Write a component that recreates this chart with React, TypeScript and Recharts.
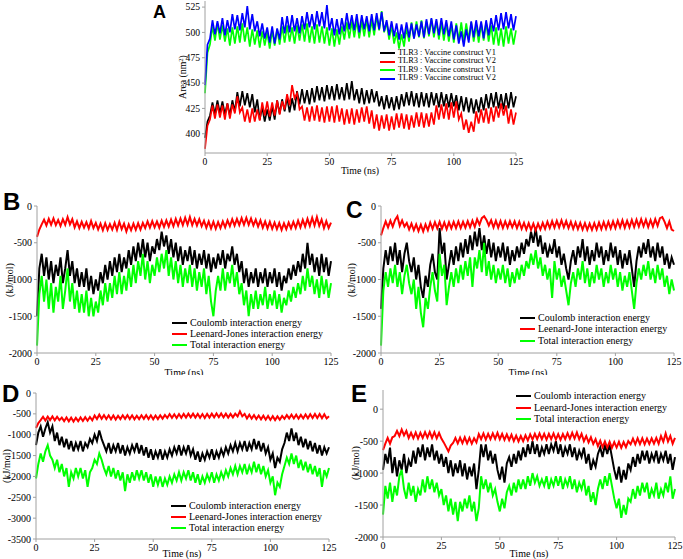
import { LineChart, Line, XAxis, YAxis, Legend } from "recharts";

// one sample per ns, 0..125 ns
const STEP_NS = 1;
const TIME_TICKS = [0, 25, 50, 75, 100, 125];

// Panel A: buried surface area (nm^2)
const A_TLR3_V1 = [
  396, 412, 418, 431, 419, 433, 420, 432, 419, 430, 418, 433, 422, 441, 427, 442, 428, 440, 426, 439, 421, 434, 414, 426, 412,
  424, 413, 427, 414, 433, 420, 434, 422, 436, 421, 435, 423, 442, 429, 444, 430, 443, 429, 445, 431, 447, 433, 446, 432, 448,
  434, 447, 433, 449, 434, 446, 433, 450, 434, 452, 433, 444, 430, 445, 429, 443, 430, 444, 431, 442, 427, 437, 424, 438, 425,
  436, 423, 437, 424, 439, 427, 441, 428, 442, 427, 440, 426, 441, 427, 440, 426, 441, 428, 440, 426, 441, 427, 439, 426, 440,
  427, 438, 423, 437, 422, 436, 421, 435, 420, 434, 421, 436, 423, 439, 425, 440, 426, 441, 425, 439, 424, 440, 425, 441, 426,
  437,
];
const A_TLR3_V2 = [
  385, 408, 414, 428, 415, 429, 416, 428, 414, 430, 415, 429, 420, 437, 421, 426, 412, 424, 411, 425, 412, 424, 413, 431, 418,
  432, 417, 431, 418, 433, 419, 432, 424, 439, 428, 448, 435, 440, 424, 427, 413, 426, 412, 427, 413, 428, 412, 426, 411, 427,
  412, 427, 411, 428, 412, 425, 409, 424, 410, 425, 409, 424, 411, 426, 412, 427, 410, 423, 405, 419, 403, 418, 405, 419, 403,
  417, 404, 420, 406, 420, 405, 419, 404, 418, 406, 421, 407, 421, 406, 420, 407, 421, 409, 428, 414, 429, 415, 430, 414, 431,
  416, 432, 414, 420, 404, 414, 401, 412, 402, 422, 410, 424, 411, 425, 410, 426, 412, 427, 416, 430, 418, 428, 410, 424, 409,
  421,
];
const A_TLR9_V1 = [
  440, 480, 488, 506, 492, 509, 493, 507, 491, 504, 487, 505, 489, 506, 490, 509, 491, 505, 486, 503, 488, 502, 485, 501, 487,
  500, 484, 502, 487, 503, 488, 506, 490, 507, 491, 505, 489, 507, 492, 508, 491, 509, 490, 506, 489, 508, 490, 506, 489, 505,
  487, 504, 486, 503, 488, 506, 493, 510, 494, 511, 495, 512, 494, 511, 496, 513, 495, 512, 497, 516, 502, 521, 500, 510, 493,
  507, 489, 500, 484, 498, 486, 505, 491, 510, 494, 511, 495, 512, 494, 511, 496, 513, 495, 511, 493, 510, 492, 509, 491, 508,
  490, 509, 492, 510, 491, 509, 493, 510, 491, 508, 490, 509, 492, 510, 491, 507, 488, 505, 487, 504, 486, 506, 489, 504, 488,
  502,
];
const A_TLR9_V2 = [
  448, 488, 494, 512, 498, 511, 499, 514, 497, 512, 500, 518, 503, 517, 502, 519, 505, 526, 503, 518, 501, 511, 496, 509, 494,
  505, 490, 506, 489, 504, 493, 515, 499, 516, 500, 517, 501, 514, 499, 516, 503, 520, 505, 518, 503, 521, 506, 520, 504, 527,
  502, 514, 497, 513, 498, 514, 501, 519, 503, 517, 502, 518, 500, 517, 503, 516, 501, 518, 502, 519, 503, 520, 501, 512, 497,
  511, 496, 509, 493, 508, 494, 510, 495, 509, 494, 508, 496, 511, 495, 513, 498, 514, 499, 513, 497, 514, 498, 512, 496, 511,
  493, 507, 489, 501, 486, 503, 490, 511, 495, 512, 496, 511, 494, 512, 497, 514, 501, 517, 502, 519, 503, 520, 504, 518, 502,
  516,
];

// Panel B: interaction energies (kJ/mol)
const B_COULOMB = [
  -1500, -850, -650, -950, -700, -1000, -750, -1050, -800, -950, -700, -1050, -850, -600, -950, -750, -1050, -850, -1100, -900,
  -1100, -850, -1150, -950, -1200, -1000, -1150, -900, -1050, -800, -1000, -750, -950, -700, -900, -650, -900, -700, -850, -600,
  -800, -550, -750, -500, -700, -450, -700, -500, -750, -550, -650, -450, -600, -350, -550, -400, -650, -450, -700, -500,
  -750, -550, -800, -600, -750, -550, -800, -600, -850, -650, -800, -600, -850, -650, -900, -700, -850, -650, -800, -600,
  -850, -650, -750, -550, -800, -650, -900, -750, -1050, -850, -1100, -900, -1050, -850, -1100, -900, -1050, -850, -1100, -900,
  -1050, -850, -1100, -900, -1150, -950, -1050, -850, -1000, -800, -950, -750, -900, -650, -850, -500, -800, -650, -900, -700,
  -950, -650, -900, -700, -950, -750,
];
const B_LJ = [
  -420, -320, -250, -185, -265, -175, -255, -170, -260, -190, -270, -180, -255, -150, -250, -180, -290, -210, -300, -215,
  -295, -220, -305, -205, -300, -230, -320, -240, -330, -235, -325, -245, -320, -230, -325, -215, -315, -240, -345, -250,
  -330, -240, -325, -235, -320, -230, -300, -210, -295, -205, -290, -210, -295, -200, -285, -195, -280, -185, -275, -175,
  -265, -170, -260, -160, -255, -150, -260, -175, -265, -180, -275, -200, -295, -210, -305, -215, -310, -220, -300, -210,
  -290, -195, -275, -180, -265, -175, -260, -165, -255, -160, -255, -170, -265, -185, -280, -195, -295, -210, -305, -215,
  -310, -225, -315, -230, -325, -235, -315, -225, -305, -215, -300, -200, -290, -190, -280, -175, -270, -160, -265, -150,
  -270, -185, -300, -205, -300, -225,
];
const B_TOTAL = [
  -1900, -1200, -950, -1300, -1000, -1400, -1050, -1450, -1100, -1300, -950, -1400, -1150, -850, -1300, -1050, -1400, -1150, -1450, -1200,
  -1450, -1150, -1500, -1250, -1500, -1300, -1450, -1150, -1350, -1050, -1300, -1050, -1250, -950, -1200, -900, -1200, -950, -1150, -850,
  -1100, -800, -1050, -750, -950, -650, -1000, -750, -1050, -800, -950, -700, -900, -650, -850, -600, -950, -700, -1000, -750,
  -1050, -800, -1100, -850, -1050, -800, -1100, -850, -1150, -900, -1100, -850, -1200, -950, -1300, -1500, -1150, -950, -1150, -850,
  -1150, -900, -1050, -800, -1100, -900, -1200, -1050, -1350, -1150, -1500, -1200, -1400, -1150, -1400, -1200, -1350, -1100, -1400, -1200,
  -1350, -1150, -1400, -1200, -1450, -1250, -1350, -1150, -1300, -1100, -1250, -1050, -1200, -950, -1150, -850, -1100, -950, -1200, -1000,
  -1250, -950, -1200, -1000, -1250, -1050,
];

// Panel C
const C_COULOMB = [
  -1400, -850, -600, -800, -550, -750, -500, -800, -600, -900, -650, -500, -750, -900, -700, -1000, -800, -1100, -1250, -950,
  -1100, -800, -650, -900, -1000, -300, -650, -500, -1000, -800, -600, -800, -550, -750, -500, -700, -450, -650, -400, -600,
  -350, -550, -300, -600, -400, -650, -450, -700, -500, -750, -550, -700, -500, -750, -550, -800, -600, -750, -550, -700,
  -500, -650, -450, -550, -350, -500, -300, -550, -400, -650, -500, -700, -550, -650, -450, -700, -550, -800, -650, -850,
  -1000, -750, -600, -800, -550, -700, -450, -750, -550, -800, -600, -750, -500, -700, -550, -800, -600, -750, -500, -700,
  -550, -800, -600, -850, -650, -800, -600, -850, -1100, -750, -550, -700, -500, -650, -450, -700, -550, -750, -500, -700,
  -550, -800, -650, -850, -700, -800,
];
const C_LJ = [
  -400, -300, -210, -290, -200, -280, -190, -140, -270, -195, -280, -230, -320, -240, -330, -250, -340, -255, -345, -250,
  -330, -225, -310, -220, -305, -215, -310, -225, -315, -220, -305, -215, -300, -210, -300, -215, -295, -205, -290, -200,
  -285, -180, -255, -165, -140, -190, -265, -195, -290, -200, -295, -205, -300, -210, -295, -205, -290, -210, -300, -215,
  -310, -230, -320, -235, -325, -240, -330, -240, -320, -230, -310, -215, -300, -205, -295, -200, -290, -195, -290, -205,
  -300, -215, -310, -225, -315, -230, -320, -235, -325, -240, -325, -235, -320, -225, -315, -220, -310, -215, -305, -210,
  -300, -200, -290, -195, -295, -200, -290, -190, -285, -185, -280, -180, -275, -185, -285, -190, -280, -180, -270, -165,
  -150, -215, -300, -210, -320, -340,
];
const C_TOTAL = [
  -1900, -1150, -900, -1100, -850, -1050, -800, -1100, -900, -1200, -950, -800, -1050, -1200, -1000, -1400, -1100, -1450, -1650, -1250,
  -1400, -1100, -900, -1150, -1300, -650, -950, -800, -1350, -1100, -900, -1100, -850, -1050, -800, -1000, -750, -950, -700, -1100,
  -700, -850, -600, -900, -500, -950, -750, -1000, -800, -1050, -850, -1000, -800, -1050, -850, -1100, -900, -1050, -850, -1000,
  -800, -950, -750, -850, -650, -800, -600, -850, -700, -950, -800, -1000, -850, -1250, -750, -1000, -850, -1100, -950, -1150,
  -1350, -1050, -900, -1100, -850, -1000, -750, -1050, -850, -1100, -900, -1050, -800, -1000, -850, -1100, -900, -1050, -800, -1000,
  -850, -1100, -900, -1150, -950, -1100, -900, -1150, -1400, -1050, -850, -1000, -800, -950, -750, -1000, -850, -1050, -800, -1000,
  -850, -1100, -950, -1200, -1000, -1150,
];

// Panel D
const D_COULOMB = [
  -1250, -950, -800, -1050, -850, -700, -950, -800, -1150, -950, -1250, -1050, -1300, -1100, -1350, -1150, -1400, -1200, -1350, -1150,
  -1400, -1200, -1300, -1100, -1200, -1000, -1150, -900, -1100, -1250, -1400, -1200, -1450, -1250, -1400, -1200, -1450, -1250, -1500, -1300,
  -1450, -1250, -1400, -1200, -1450, -1250, -1500, -1300, -1550, -1350, -1600, -1400, -1550, -1350, -1600, -1400, -1550, -1350, -1500, -1300,
  -1450, -1250, -1500, -1300, -1450, -1250, -1500, -1350, -1600, -1400, -1650, -1450, -1600, -1400, -1550, -1350, -1600, -1400, -1550, -1350,
  -1500, -1300, -1450, -1250, -1400, -1200, -1400, -1200, -1350, -1150, -1400, -1200, -1350, -1100, -1350, -1150, -1400, -1200, -1450, -1300,
  -1600, -1450, -1800, -1550, -1650, -1350, -1200, -950, -1150, -850, -1150, -950, -1250, -1050, -1300, -1100, -1350, -1150, -1400, -1200,
  -1450, -1250, -1500, -1300, -1450, -1300,
];
const D_LJ = [
  -840, -720, -650, -570, -660, -565, -650, -560, -655, -570, -650, -590, -675, -585, -680, -590, -685, -595, -675, -585,
  -670, -580, -665, -575, -655, -540, -625, -520, -620, -530, -625, -535, -630, -540, -635, -545, -625, -535, -620, -530,
  -625, -535, -630, -545, -625, -535, -620, -530, -625, -535, -630, -540, -625, -535, -615, -525, -600, -505, -595, -510,
  -600, -505, -595, -500, -590, -495, -585, -495, -590, -500, -595, -505, -600, -500, -590, -495, -585, -490, -580, -490,
  -585, -495, -590, -500, -585, -495, -560, -440, -560, -500, -610, -520, -615, -530, -625, -540, -630, -545, -640, -550,
  -645, -555, -650, -560, -640, -550, -620, -530, -610, -520, -610, -520, -615, -525, -610, -515, -605, -510, -600, -505,
  -600, -505, -605, -510, -610, -560,
];
const D_TOTAL = [
  -2050, -1700, -1450, -1650, -1400, -1250, -1500, -1600, -1800, -1600, -1900, -1700, -2000, -1800, -2250, -1900, -2050, -1800, -2000, -1800,
  -2050, -1850, -2250, -1900, -1800, -1600, -1700, -1450, -1600, -1800, -1950, -1750, -2000, -1800, -2050, -1850, -2100, -1900, -2350, -1950,
  -2150, -1900, -2100, -1850, -2050, -1850, -2100, -1900, -2150, -1950, -2250, -2000, -2200, -2000, -2250, -2050, -2200, -2000, -2150, -1950,
  -2100, -1900, -2100, -1900, -2050, -1850, -2100, -1900, -2150, -1950, -2200, -2000, -2150, -1950, -2100, -1900, -2150, -1950, -2100, -1900,
  -2050, -1850, -2000, -1800, -1950, -1750, -1950, -1750, -1900, -1700, -1950, -1750, -1900, -1650, -1900, -1700, -1950, -1750, -2000, -1850,
  -2150, -2000, -2450, -2150, -2250, -1950, -1750, -1550, -1700, -1450, -1700, -1500, -1800, -1600, -1850, -1650, -1900, -1700, -1950, -1750,
  -2000, -1800, -2250, -1850, -2000, -1800,
];

// Panel E
const E_COULOMB = [
  -950, -700, -850, -600, -1000, -750, -1050, -800, -950, -700, -1000, -800, -900, -650, -850, -600, -750, -550, -800, -600,
  -750, -550, -800, -650, -850, -700, -900, -750, -1000, -800, -1050, -850, -1000, -800, -1050, -850, -1100, -900, -1050, -850,
  -1250, -950, -550, -750, -550, -800, -650, -850, -700, -950, -1100, -900, -1150, -850, -750, -900, -700, -850, -650, -800,
  -600, -750, -550, -700, -500, -700, -550, -750, -600, -700, -550, -700, -550, -650, -500, -700, -550, -750, -600, -700,
  -550, -750, -600, -800, -650, -750, -600, -850, -700, -950, -800, -900, -700, -600, -750, -550, -700, -550, -750, -950,
  -1100, -900, -1150, -950, -1100, -850, -950, -750, -900, -700, -850, -650, -800, -650, -850, -700, -800, -650, -850, -700,
  -800, -650, -850, -700, -950, -750,
];
const E_LJ = [
  -640, -540, -450, -540, -440, -420, -340, -420, -320, -410, -340, -450, -370, -455, -365, -460, -370, -450, -360, -445,
  -355, -450, -360, -455, -370, -460, -520, -590, -660, -570, -530, -450, -535, -445, -530, -440, -535, -450, -540, -455,
  -520, -390, -470, -380, -475, -385, -470, -380, -465, -370, -470, -385, -480, -395, -485, -400, -500, -415, -505, -420,
  -500, -410, -490, -395, -475, -385, -470, -380, -470, -385, -475, -385, -470, -380, -475, -390, -480, -390, -470, -375,
  -465, -370, -460, -365, -470, -385, -500, -420, -520, -440, -545, -470, -580, -495, -595, -505, -600, -510, -605, -515,
  -600, -510, -605, -515, -595, -500, -550, -460, -550, -455, -545, -455, -550, -460, -545, -455, -540, -450, -540, -420,
  -510, -380, -505, -420, -540, -450,
];
const E_TOTAL = [
  -1650, -1200, -1400, -1150, -1450, -1200, -1350, -1050, -950, -1250, -1400, -1150, -1350, -1200, -1450, -1250, -1350, -1100, -1300, -1050,
  -1250, -1100, -1300, -1150, -1350, -1250, -1500, -1350, -1600, -1400, -1650, -1450, -1750, -1450, -1600, -1400, -1550, -1350, -1600, -1450,
  -1750, -1550, -1050, -1250, -1100, -1300, -1150, -1350, -1250, -1450, -1600, -1400, -1550, -1300, -1200, -1350, -1150, -1300, -1100, -1250,
  -1100, -1250, -1050, -1200, -1000, -1150, -1050, -1200, -1100, -1200, -1050, -1250, -1100, -1200, -1050, -1200, -1050, -1250, -1100, -1200,
  -1050, -1250, -1100, -1300, -1150, -1250, -1100, -1350, -1200, -1450, -1300, -1500, -1250, -1100, -1250, -1050, -1200, -1000, -1200, -1400,
  -1550, -1400, -1700, -1500, -1650, -1400, -1450, -1250, -1400, -1200, -1350, -1150, -1300, -1150, -1400, -1250, -1350, -1150, -1400, -1250,
  -1350, -1150, -1300, -1050, -1400, -1250,
];

const BLACK = "#000000";
const RED = "#ff0000";
const GREEN = "#00ff00";
const BLUE = "#0000ff";
const FRAME = "#a0a0a0";
const SERIF = '"Liberation Serif", "DejaVu Serif", serif';
const SANS = '"Liberation Sans", Arial, sans-serif';

type Series = { name: string; color: string; values: number[] };

type PanelProps = {
  left: number;
  top: number;
  width: number;
  height: number;
  plot: { x0: number; x1: number; y0: number; y1: number };
  domain: [number, number];
  yTicks: number[];
  series: Series[];
  legendAt: { x: number; y: number; row: number };
  fontSize: number;
  legendFont?: number;
  lineWidth: number;
};

function buildRows(series: Series[]) {
  return series[0].values.map((_, i) => {
    const row: Record<string, number> = { t: i * STEP_NS };
    series.forEach((s, k) => {
      row["s" + k] = s.values[i];
    });
    return row;
  });
}

function Panel({ left, top, width, height, plot, domain, yTicks, series, legendAt, fontSize, legendFont, lineWidth }: PanelProps) {
  const data = buildRows(series);
  const tick = { fill: "#000", fontSize, fontFamily: SERIF };

  const renderLegend = () => (
    <div>
      {series.map((s) => (
        <div
          key={s.name}
          style={{ display: "flex", alignItems: "center", height: legendAt.row, whiteSpace: "nowrap" }}
        >
          <span style={{ display: "inline-block", width: 15, height: 2, background: s.color, marginRight: 3 }} />
          <span style={{ fontFamily: SERIF, fontSize: legendFont ?? fontSize, color: "#000", lineHeight: 1 }}>
            {s.name}
          </span>
        </div>
      ))}
    </div>
  );

  return (
    <div style={{ position: "absolute", left, top, width, height, background: "#fff" }}>
      <LineChart
        width={width}
        height={height}
        data={data}
        margin={{ top: plot.y0 - top, right: left + width - plot.x1, bottom: 0, left: 0 }}
      >
        <XAxis
          dataKey="t"
          type="number"
          domain={[0, 125]}
          ticks={TIME_TICKS}
          tick={tick}
          tickSize={3}
          height={top + height - plot.y1}
          stroke={FRAME}
          interval={0}
        />
        <XAxis xAxisId="top" orientation="top" type="number" domain={[0, 125]} height={0} tick={false} tickLine={false} stroke={FRAME} />
        <YAxis
          type="number"
          domain={domain}
          ticks={yTicks}
          tick={tick}
          tickSize={3}
          width={plot.x0 - left}
          stroke={FRAME}
          interval={0}
          allowDataOverflow
        />
        <YAxis yAxisId="right" orientation="right" type="number" domain={domain} width={0} tick={false} tickLine={false} stroke={FRAME} />
        {series.map((s, k) => (
          <Line
            key={s.name}
            dataKey={"s" + k}
            stroke={s.color}
            strokeWidth={lineWidth}
            strokeLinejoin="miter"
            dot={false}
            type="linear"
            isAnimationActive={false}
          />
        ))}
        <Legend
          layout="horizontal"
          verticalAlign="middle"
          align="center"
          content={renderLegend}
          wrapperStyle={{ left: legendAt.x - left, top: legendAt.y - top - legendAt.row / 2, width: "auto" }}
        />
      </LineChart>
    </div>
  );
}

const ENERGY_NAMES = ["Coulomb interaction energy", "Leenard-Jones interaction energy", "Total interaction energy"];
const ENERGY_NAMES_C = ["Coulomb interaction energy", "Leenard-Jone interaction energy", "Total interaction energy"];

export default function App() {
  const ticks2000 = [-2000, -1500, -1000, -500, 0];
  return (
    <div style={{ position: "absolute", left: 0, top: 0, width: 683, height: 559, background: "#fff", overflow: "hidden" }}>
      <Panel
        left={140}
        top={0}
        width={390}
        height={180}
        plot={{ x0: 205, x1: 516, y0: 1, y1: 153 }}
        domain={[381, 531]}
        yTicks={[400, 425, 450, 475, 500, 525]}
        series={[
          { name: "TLR3 : Vaccine construct V1", color: BLACK, values: A_TLR3_V1 },
          { name: "TLR3 : Vaccine construct V2", color: RED, values: A_TLR3_V2 },
          { name: "TLR9 : Vaccine construct V1", color: GREEN, values: A_TLR9_V1 },
          { name: "TLR9 : Vaccine construct V2", color: BLUE, values: A_TLR9_V2 },
        ]}
        legendAt={{ x: 380, y: 53, row: 8.5 }}
        fontSize={9.6}
        legendFont={8.4}
        lineWidth={1.7}
      />
      <Panel
        left={0}
        top={190}
        width={345}
        height={185}
        plot={{ x0: 37, x1: 331, y0: 206, y1: 353 }}
        domain={[-2000, 0]}
        yTicks={ticks2000}
        series={[
          { name: ENERGY_NAMES[0], color: BLACK, values: B_COULOMB },
          { name: ENERGY_NAMES[1], color: RED, values: B_LJ },
          { name: ENERGY_NAMES[2], color: GREEN, values: B_TOTAL },
        ]}
        legendAt={{ x: 172, y: 323, row: 11 }}
        fontSize={10}
        lineWidth={2}
      />
      <Panel
        left={340}
        top={190}
        width={343}
        height={185}
        plot={{ x0: 381, x1: 674, y0: 206, y1: 353 }}
        domain={[-2000, 0]}
        yTicks={ticks2000}
        series={[
          { name: ENERGY_NAMES_C[0], color: BLACK, values: C_COULOMB },
          { name: ENERGY_NAMES_C[1], color: RED, values: C_LJ },
          { name: ENERGY_NAMES_C[2], color: GREEN, values: C_TOTAL },
        ]}
        legendAt={{ x: 520, y: 318, row: 11.3 }}
        fontSize={10}
        lineWidth={2}
      />
      <Panel
        left={0}
        top={375}
        width={340}
        height={184}
        plot={{ x0: 36, x1: 329, y0: 393, y1: 539 }}
        domain={[-3500, 0]}
        yTicks={[-3500, -3000, -2500, -2000, -1500, -1000, -500, 0]}
        series={[
          { name: ENERGY_NAMES[0], color: BLACK, values: D_COULOMB },
          { name: ENERGY_NAMES[1], color: RED, values: D_LJ },
          { name: ENERGY_NAMES[2], color: GREEN, values: D_TOTAL },
        ]}
        legendAt={{ x: 171, y: 506, row: 11.2 }}
        fontSize={10}
        lineWidth={2}
      />
      <Panel
        left={340}
        top={375}
        width={343}
        height={184}
        plot={{ x0: 383, x1: 675, y0: 390, y1: 537 }}
        domain={[-2000, 300]}
        yTicks={ticks2000}
        series={[
          { name: ENERGY_NAMES[0], color: BLACK, values: E_COULOMB },
          { name: ENERGY_NAMES[1], color: RED, values: E_LJ },
          { name: ENERGY_NAMES[2], color: GREEN, values: E_TOTAL },
        ]}
        legendAt={{ x: 516, y: 396, row: 11.5 }}
        fontSize={10}
        lineWidth={2}
      />

      {/* panel letters and axis titles */}
      <svg width={683} height={559} style={{ position: "absolute", left: 0, top: 0, pointerEvents: "none" }}>
        <defs>
          <clipPath id="upperRow">
            <rect x={0} y={0} width={683} height={375} />
          </clipPath>
        </defs>
        <g fontFamily={SANS} fontWeight="bold" fill="#000">
          <text x={153} y={18} fontSize={18}>A</text>
          <text x={3} y={210} fontSize={24}>B</text>
          <text x={346} y={218} fontSize={23}>C</text>
          <text x={2} y={402} fontSize={24}>D</text>
          <text x={351} y={402} fontSize={24}>E</text>
        </g>
        <g fontFamily={SERIF} fill="#000" textAnchor="middle">
          <text x={360} y={173.5} fontSize={9.8}>Time (ns)</text>
          <g clipPath="url(#upperRow)">
            <text x={184} y={376} fontSize={10}>Time (ns)</text>
            <text x={528} y={376} fontSize={10}>Time (ns)</text>
          </g>
          <text x={182} y={556.5} fontSize={10}>Time (ns)</text>
          <text x={529} y={556.5} fontSize={10}>Time (ns)</text>
          <text transform="translate(186,77) rotate(-90)" fontSize={9.8}>
            Area (nm<tspan dy={-3} fontSize={6.5}>2</tspan><tspan dy={3}>)</tspan>
          </text>
          <text transform="translate(13,280) rotate(-90)" fontSize={10}>(kJ/mol)</text>
          <text transform="translate(355,280) rotate(-90)" fontSize={10}>(kJ/mol)</text>
          <text transform="translate(10,466) rotate(-90)" fontSize={10}>(kJ/mol)</text>
          <text transform="translate(359,463) rotate(-90)" fontSize={10}>(kJ/mol)</text>
        </g>
      </svg>
    </div>
  );
}
